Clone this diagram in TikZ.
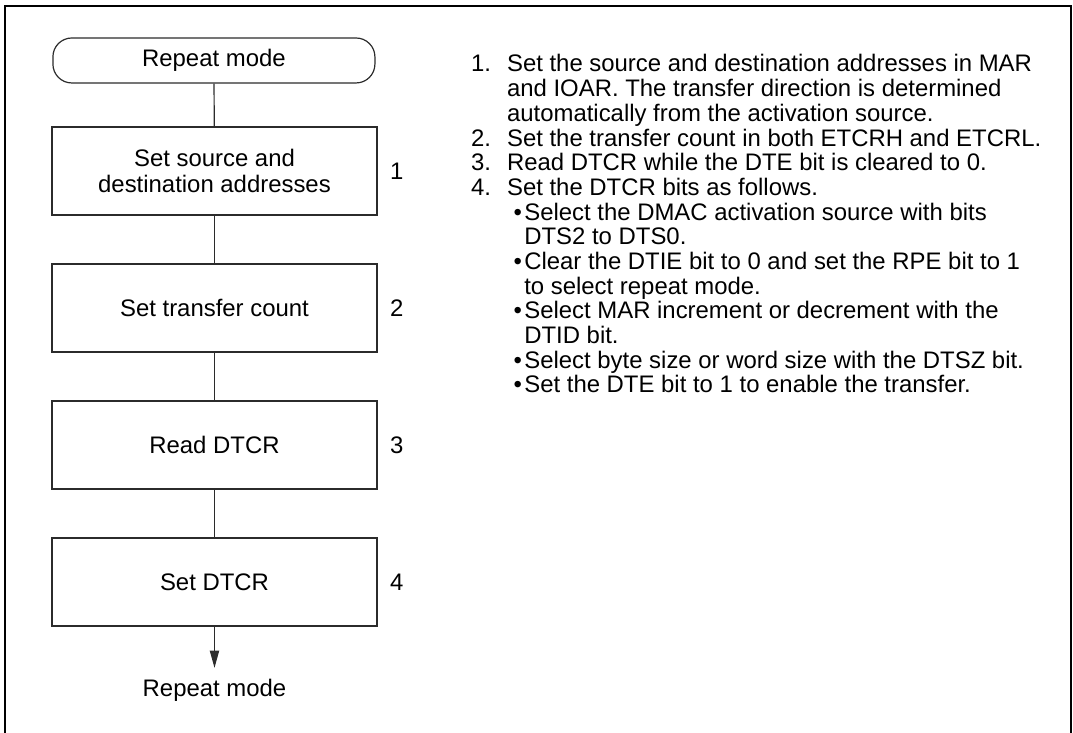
\documentclass[tikz,border=0pt]{standalone}
\usepackage{fontspec}
\setmainfont{Liberation Sans}
\usetikzlibrary{positioning,arrows.meta}
\definecolor{Edge}{HTML}{2B2B2B}
\newcommand{\notebullet}{\hspace{5pt}\makebox[8pt][l]{\textbullet}}
\newcommand{\noteindent}{\hspace{13pt}}

\begin{document}
\begin{tikzpicture}[
    flowbox/.style={draw=Edge,line width=0.9pt,minimum width=8.6cm,minimum height=2.33cm,align=center,font=\fontsize{18pt}{20pt}\selectfont},
    termbox/.style={draw=Edge,line width=0.9pt,rounded corners=0.5cm,minimum width=8.52cm,minimum height=1.19cm,font=\fontsize{18pt}{20pt}\selectfont},
    stepnum/.style={font=\fontsize{18pt}{20pt}\selectfont},
    link/.style={draw=Edge,line width=0.9pt}
  ]
    \useasboundingbox (0,0) rectangle (28.39,-19.394);
    \draw[line width=1.5pt] (0.13,-19.5) -- (0.13,-0.16) -- (28.34,-0.16) -- (28.34,-19.5);

    \node[termbox] (start) at (5.66,-1.60) {Repeat mode};
    \node[flowbox] (b1) at (5.675,-4.524) {Set source and\\destination addresses};
    \node[flowbox] (b2) at (5.675,-8.149) {Set transfer count};
    \node[flowbox] (b3) at (5.675,-11.774) {Read DTCR};
    \node[flowbox] (b4) at (5.675,-15.399) {Set DTCR};
    \node[stepnum] (n1) at (10.50,-4.524) {1};
    \node[stepnum] (n2) at (10.50,-8.149) {2};
    \node[stepnum] (n3) at (10.50,-11.774) {3};
    \node[stepnum] (n4) at (10.50,-15.399) {4};
    \coordinate (tip) at (5.675,-17.67);
    \node[stepnum] (finish) at (5.675,-18.26) {Repeat mode};

    \draw[link] (start) -- (b1);
    \draw[link] (b1) -- (b2);
    \draw[link] (b2) -- (b3);
    \draw[link] (b3) -- (b4);
    \draw[link,-{Triangle[length=13pt,width=7pt]}] (b4) -- (tip);

    % procedure notes
    \node[anchor=base west,inner sep=0,font=\fontsize{18pt}{18.5pt}\selectfont] (notes) at (12.46,-1.905) {%
      \begin{tabular}[t]{@{}p{27pt}@{}l@{}}
        1. & Set the source and destination addresses in MAR\\
           & and IOAR. The transfer direction is determined\\
           & automatically from the activation source.\\
        2. & Set the transfer count in both ETCRH and ETCRL.\\
        3. & Read DTCR while the DTE bit is cleared to 0.\\
        4. & Set the DTCR bits as follows.\\
           & \notebullet Select the DMAC activation source with bits\\
           & \noteindent DTS2 to DTS0.\\
           & \notebullet Clear the DTIE bit to 0 and set the RPE bit to 1\\
           & \noteindent to select repeat mode.\\
           & \notebullet Select MAR increment or decrement with the\\
           & \noteindent DTID bit.\\
           & \notebullet Select byte size or word size with the DTSZ bit.\\
           & \notebullet Set the DTE bit to 1 to enable the transfer.
      \end{tabular}};
\end{tikzpicture}
\end{document}
